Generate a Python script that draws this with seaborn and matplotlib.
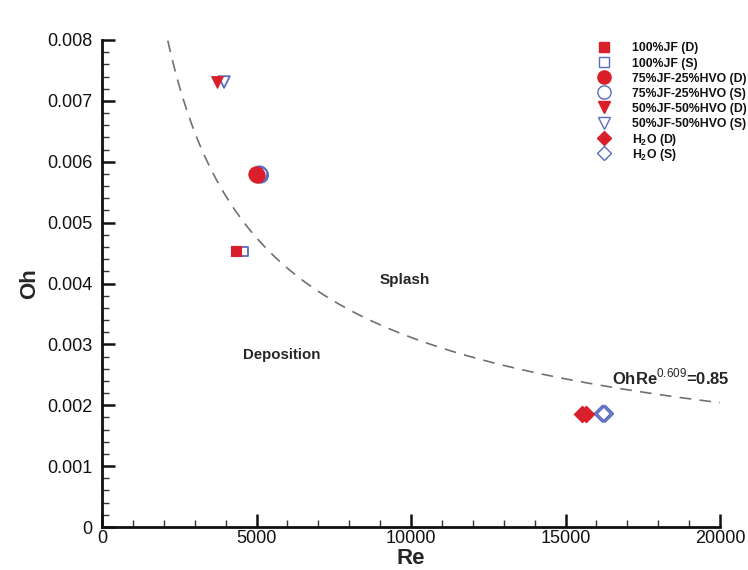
import numpy as np
import pandas as pd
import matplotlib
matplotlib.use("Agg")
import matplotlib.pyplot as plt
import seaborn as sns
from matplotlib.ticker import MultipleLocator
from matplotlib.lines import Line2D

sns.set_theme(style="white")
plt.rcParams['font.family'] = ['Liberation Sans', 'DejaVu Sans']
plt.rcParams['mathtext.fontset'] = 'custom'
plt.rcParams['mathtext.rm'] = 'Liberation Sans'
plt.rcParams['mathtext.bf'] = 'Liberation Sans:bold'

# ---- data ----
labels = ["100%JF (D)", "100%JF (S)", "75%JF-25%HVO (D)", "75%JF-25%HVO (S)",
          "50%JF-50%HVO (D)", "50%JF-50%HVO (S)", r"H$_\mathbf{2}$O (D)", r"H$_\mathbf{2}$O (S)"]
re_jf_d = [4340];            oh_jf_d = [0.00453]
re_jf_s = [4560];            oh_jf_s = [0.00453]
re_75_d = [4980, 5020];      oh_75_d = [0.00580, 0.00578]
re_75_s = [5100, 5130];      oh_75_s = [0.00580, 0.00578]
re_50_d = [3720];            oh_50_d = [0.00731]
re_50_s = [3950];            oh_50_s = [0.00731]
re_h2o_d = [15520, 15650];   oh_h2o_d = [0.00186, 0.00186]
re_h2o_s = [16200, 16280];   oh_h2o_s = [0.00186, 0.00186]
curve_coef = 0.85
curve_exp = 0.609
curve_re_range = [2130, 20000]

series_re = [re_jf_d, re_jf_s, re_75_d, re_75_s, re_50_d, re_50_s, re_h2o_d, re_h2o_s]
series_oh = [oh_jf_d, oh_jf_s, oh_75_d, oh_75_s, oh_50_d, oh_50_s, oh_h2o_d, oh_h2o_s]
markers = ["s", "s", "o", "o", "v", "v", "D", "D"]
sizes = [45, 45, 120, 120, 70, 70, 70, 70]
leg_ms = [6.5, 6.5, 9.5, 9.5, 8, 8, 7, 7]
filled = [True, False, True, False, True, False, True, False]

RED = "#d9202a"
BLUE = "#5a6cc0"

W, H = 748, 570
fig = plt.figure(figsize=(W / 100, H / 100), dpi=100)
ax = fig.add_axes([102 / W, 1 - 527 / H, 618 / W, 487 / H])

re_curve = np.linspace(curve_re_range[0], curve_re_range[1], 400)
oh_curve = curve_coef * re_curve ** (-curve_exp)
sns.lineplot(x=re_curve, y=oh_curve, ax=ax, color="#707070", lw=1.2)
ax.lines[-1].set_dashes((7, 5))

for lab, xs, ys, m, s, f in zip(labels, series_re, series_oh, markers, sizes, filled):
    df = pd.DataFrame({"Re": xs, "Oh": ys})
    if f:
        sns.scatterplot(data=df, x="Re", y="Oh", ax=ax, marker=m, s=s,
                        color=RED, edgecolor=RED, linewidth=0.8, zorder=4)
    else:
        sns.scatterplot(data=df, x="Re", y="Oh", ax=ax, marker=m, s=s,
                        facecolor="none", edgecolor=BLUE, linewidth=1.3, zorder=3)

ax.set_xlim(0, 20000)
ax.set_ylim(0, 0.008)
ax.xaxis.set_major_locator(MultipleLocator(5000))
ax.xaxis.set_minor_locator(MultipleLocator(1000))
ax.yaxis.set_minor_locator(MultipleLocator(0.0002))
ax.set_yticks(np.arange(0, 0.0081, 0.001))
ax.set_yticklabels(["0"] + [f"{v:.3f}" for v in np.arange(0.001, 0.0081, 0.001)])
ax.tick_params(which="major", direction="in", length=9.5, width=1.8, labelsize=13,
               colors="#111111")
ax.tick_params(axis="x", which="major", pad=2)
ax.tick_params(axis="y", which="major", pad=7)
ax.tick_params(which="minor", direction="in", length=5, width=1.0, colors="#333333")
ax.tick_params(axis="both", which="both", bottom=True, left=True, top=False, right=False)
for sp in ["top", "right"]:
    ax.spines[sp].set_visible(False)
for sp in ["left", "bottom"]:
    ax.spines[sp].set_color("#111111")
    ax.spines[sp].set_linewidth(2)

ax.set_xlabel("Re", fontsize=16, fontweight="bold", va="center")
ax.set_ylabel("Oh", fontsize=16, fontweight="bold", va="center")
ax.xaxis.set_label_coords(0.5, (527 - 558) / 487)
ax.yaxis.set_label_coords((30 - 102) / 618, 0.5)

ax.text(9800, 0.00406, "Splash", fontsize=11, fontweight="bold", ha="center", va="center")
ax.text(5800, 0.00283, "Deposition", fontsize=10.8, fontweight="bold", ha="center", va="center")
ax.text(16500, 0.00246, r"OhRe$^{0.609}$=0.85", fontsize=12, fontweight="bold",
        ha="left", va="center")

# legend, laid out row by row in figure pixels
leg_x_marker = 604
leg_x_text = 632
leg_y0 = 47
leg_dy = 15.1
for i, (lab, m, ms, f) in enumerate(zip(labels, markers, leg_ms, filled)):
    y = 1 - (leg_y0 + i * leg_dy) / H
    if f:
        h = Line2D([leg_x_marker / W], [y], ls="none", marker=m, markersize=ms,
                   markerfacecolor=RED, markeredgecolor=RED, transform=fig.transFigure)
    else:
        h = Line2D([leg_x_marker / W], [y], ls="none", marker=m, markersize=ms,
                   markerfacecolor="none", markeredgecolor=BLUE, markeredgewidth=1.0,
                   transform=fig.transFigure)
    fig.add_artist(h)
    fig.text(leg_x_text / W, y, lab, fontsize=8.8, fontweight="bold", ha="left",
             va="center_baseline", color="#111111")

fig.savefig("out.png", dpi=100)
